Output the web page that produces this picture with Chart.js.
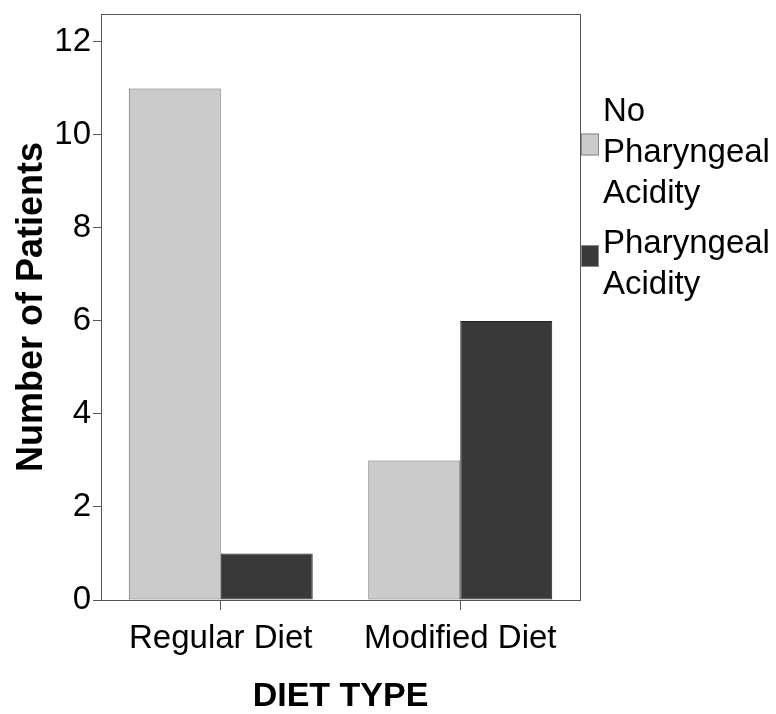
<!DOCTYPE html>
<html>
<head>
<meta charset="utf-8">
<script src="https://cdn.jsdelivr.net/npm/chart.js@4.4.0/dist/chart.umd.min.js"></script>
<style>
  body { margin: 0; background: #fff; }
</style>
</head>
<body>
<canvas id="graficoDieta" width="776" height="714"></canvas>
<script>
const categorias = ['Regular Diet', 'Modified Diet'];
const rotulosSeries = ['No Pharyngeal Acidity', 'Pharyngeal Acidity'];
const semAcidez = [11, 3];
const comAcidez = [1, 6];
const ticksY = [0, 2, 4, 6, 8, 10, 12];

const fonte = '"Liberation Sans", Arial, sans-serif';
const corEixo = '#555';

// moldura em volta da area do grafico
const molduraPlugin = {
    id: 'moldura',
    afterDraw(chart) {
        const a = chart.chartArea;
        const ctx = chart.ctx;
        ctx.save();
        ctx.strokeStyle = corEixo;
        ctx.lineWidth = 1;
        ctx.strokeRect(a.left + 0.5, a.top + 0.5, a.right - a.left, a.bottom - a.top);
        ctx.restore();
    }
};

// legenda com quebra de linha por palavra
const legendaPlugin = {
    id: 'legendaQuebrada',
    afterDraw(chart) {
        const ctx = chart.ctx;
        const a = chart.chartArea;
        const alturaLinha = 41;
        let y0 = 91;
        ctx.save();
        ctx.font = '33px ' + fonte;
        ctx.textBaseline = 'alphabetic';
        chart.data.datasets.forEach(function (ds) {
            const linhas = ds.label.split(' ');
            const alturaBloco = linhas.length * alturaLinha;
            const centroCaixa = y0 + alturaBloco / 2 - 8;
            ctx.fillStyle = ds.backgroundColor;
            ctx.strokeStyle = '#888';
            ctx.lineWidth = 1;
            ctx.fillRect(a.right + 1, centroCaixa - 11, 18, 22);
            ctx.strokeRect(a.right + 1.5, centroCaixa - 10.5, 17, 21);
            ctx.fillStyle = '#000';
            linhas.forEach(function (t, i) {
                ctx.fillText(t, a.right + 23, y0 + 30 + i * alturaLinha);
            });
            y0 += alturaBloco + 9;
        });
        ctx.restore();
    }
};

const config = {
    type: 'bar',
    data: {
        labels: categorias,
        datasets: [{
            label: rotulosSeries[0],
            data: semAcidez,
            backgroundColor: '#cbcbcb',
            borderColor: '#666',
            borderWidth: 1,
            borderSkipped: false
        }, {
            label: rotulosSeries[1],
            data: comAcidez,
            backgroundColor: '#393939',
            borderColor: '#222',
            borderWidth: 1,
            borderSkipped: false
        }]
    },
    options: {
        responsive: false,
        animation: false,
        devicePixelRatio: 1,
        layout: { padding: { top: 14, right: 196, left: 0, bottom: 0 } },
        datasets: { bar: { categoryPercentage: 0.768, barPercentage: 1 } },
        plugins: {
            legend: { display: false },
            tooltip: { enabled: false }
        },
        scales: {
            x: {
                offset: true,
                grid: {
                    offset: false,
                    drawOnChartArea: false,
                    drawTicks: true,
                    tickLength: 10,
                    color: corEixo
                },
                border: { color: corEixo },
                ticks: {
                    color: '#000',
                    padding: 9,
                    maxRotation: 0,
                    font: { family: fonte, size: 33, lineHeight: 1.2 }
                },
                title: {
                    display: true,
                    text: 'DIET TYPE',
                    color: '#000',
                    padding: { top: 0, bottom: 0 },
                    font: { family: fonte, size: 34, weight: 'bold', lineHeight: 1 }
                },
                afterFit(scale) {
                    scale.height = 114;
                    scale.paddingLeft = 0;
                    scale.paddingRight = 0;
                }
            },
            y: {
                min: 0,
                max: 12.6,
                grid: {
                    drawOnChartArea: false,
                    drawTicks: true,
                    tickLength: 8,
                    color: corEixo
                },
                border: { color: corEixo },
                ticks: {
                    color: '#000',
                    padding: 2,
                    font: { family: fonte, size: 33 }
                },
                title: {
                    display: true,
                    text: 'Number of Patients',
                    color: '#000',
                    padding: { top: 10, bottom: 0 },
                    font: { family: fonte, size: 36, weight: 'bold', lineHeight: 1.2 }
                },
                afterBuildTicks(scale) {
                    scale.ticks = ticksY.map(function (v) { return { value: v }; });
                },
                afterFit(scale) {
                    scale.width = 101;
                    scale.paddingTop = 0;
                    scale.paddingBottom = 0;
                }
            }
        }
    },
    plugins: [molduraPlugin, legendaPlugin]
};

const graficoDieta = new Chart(document.getElementById('graficoDieta'), config);
</script>
</body>
</html>
